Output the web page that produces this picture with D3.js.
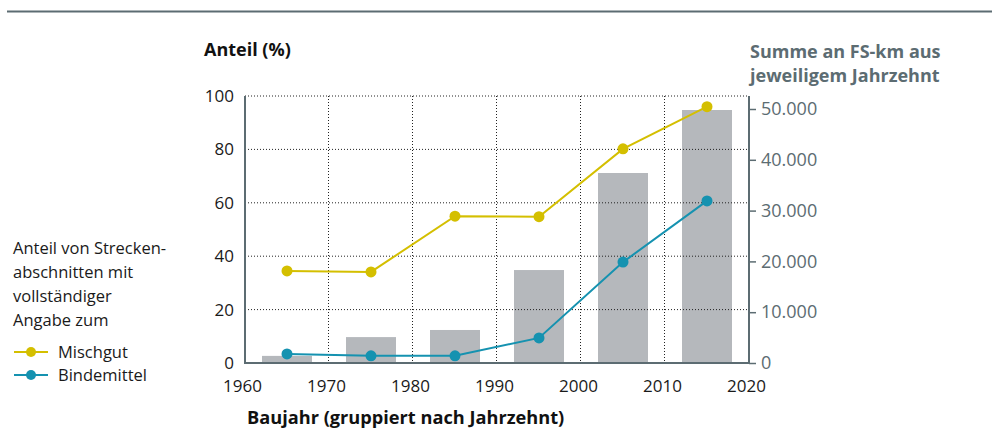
<!DOCTYPE html>
<html>
<head>
<meta charset="utf-8">
<style>
  body { margin: 0; background: #fff; }
  svg text { font-family: "Open Sans", sans-serif; }
</style>
</head>
<body>
<div id="chart"></div>
<script src="https://d3js.org/d3.v7.min.js"></script>
<script>
  // Decades (bar / point centres)
  const DECADES = [1965, 1975, 1985, 1995, 2005, 2015];
  // Sum of FS-km per decade (right axis)
  const KM_SUM = [1400, 5100, 6500, 18300, 37400, 49800];
  // Share (%) with full data
  const MISCHGUT = [34.5, 34.1, 55.0, 54.8, 80.2, 96.0];
  const BINDEMITTEL = [3.4, 2.7, 2.7, 9.4, 37.8, 60.7];
  const X_TICKS = [1960, 1970, 1980, 1990, 2000, 2010, 2020];
  const Y_TICKS = [0, 20, 40, 60, 80, 100];
  const KM_TICKS = [0, 10000, 20000, 30000, 40000, 50000];

  const W = 992, H = 430;
  const LEFT = 245, RIGHT = 749, TOP = 96, BOTTOM = 363;
  const YELLOW = "#d4bf00", TEAL = "#1592b0", GREY = "#b5b8bc", SLATE = "#5c6c72";

  const svg = d3.select("#chart").append("svg")
    .attr("width", W).attr("height", H);

  // top rule
  svg.append("line")
    .attr("x1", 7).attr("x2", W).attr("y1", 11.5).attr("y2", 11.5)
    .style("stroke", SLATE).style("stroke-width", 2);

  const x = d3.scaleLinear().domain([1960, 2020]).range([LEFT, RIGHT]);
  const y = d3.scaleLinear().domain([0, 100]).range([BOTTOM, TOP]);
  const yKm = d3.scaleLinear().domain([0, 50000]).range([BOTTOM, 109]);

  // bars
  svg.selectAll("rect.bar")
    .data(DECADES)
    .enter().append("rect")
    .attr("class", "bar")
    .attr("x", d => x(d) - 25)
    .attr("width", 50)
    .attr("y", (d, i) => yKm(KM_SUM[i]))
    .attr("height", (d, i) => BOTTOM - yKm(KM_SUM[i]))
    .style("fill", GREY);

  // gridlines
  svg.selectAll("line.hgrid")
    .data(Y_TICKS.slice(1))
    .enter().append("line")
    .attr("x1", LEFT).attr("x2", RIGHT)
    .attr("y1", d => y(d)).attr("y2", d => y(d))
    .style("stroke", "#222").style("stroke-width", 1)
    .style("stroke-dasharray", "1,2");

  svg.selectAll("line.vgrid")
    .data(X_TICKS.slice(1))
    .enter().append("line")
    .attr("x1", d => x(d) - 0.5).attr("x2", d => x(d) - 0.5)
    .attr("y1", TOP).attr("y2", BOTTOM)
    .style("stroke", "#222").style("stroke-width", 1)
    .style("stroke-dasharray", "1,2");

  // left axis
  const yAx = svg.append("g")
    .attr("transform", "translate(" + LEFT + ",0)")
    .call(d3.axisLeft(y).tickValues(Y_TICKS).tickSize(0).tickPadding(11));
  yAx.select(".domain").remove();
  yAx.selectAll("text").style("font-size", "17px").style("fill", "#1a1a1a");

  // x axis
  const xAx = svg.append("g")
    .attr("transform", "translate(0," + BOTTOM + ")")
    .call(d3.axisBottom(x).tickValues(X_TICKS).tickSize(0).tickPadding(17)
      .tickFormat(d => d));
  xAx.select(".domain").remove();
  xAx.selectAll("text").style("font-size", "17px").style("fill", "#1a1a1a")
    .attr("dx", -3);

  // right axis
  const rAx = svg.append("g")
    .attr("transform", "translate(" + RIGHT + ",0)")
    .call(d3.axisRight(yKm).tickValues(KM_TICKS).tickSize(7).tickPadding(5)
      .tickFormat(d => d === 0 ? "0" : d3.format(",")(d).replace(/,/g, ".")));
  rAx.select(".domain").remove();
  rAx.selectAll("line").style("stroke", SLATE).style("stroke-width", 1.5);
  rAx.selectAll("text").style("font-size", "18px").style("fill", SLATE);

  // axis lines
  svg.append("line")
    .attr("x1", LEFT).attr("x2", LEFT).attr("y1", TOP).attr("y2", BOTTOM + 1)
    .style("stroke", SLATE).style("stroke-width", 2);
  svg.append("line")
    .attr("x1", LEFT).attr("x2", RIGHT).attr("y1", BOTTOM).attr("y2", BOTTOM)
    .style("stroke", SLATE).style("stroke-width", 2);
  svg.append("line")
    .attr("x1", RIGHT).attr("x2", RIGHT).attr("y1", TOP).attr("y2", BOTTOM + 1)
    .style("stroke", SLATE).style("stroke-width", 2);

  // lines
  const series = [
    { name: "Mischgut", values: MISCHGUT, color: YELLOW },
    { name: "Bindemittel", values: BINDEMITTEL, color: TEAL }
  ];
  const line = d3.line().x(d => x(d[0])).y(d => y(d[1]));
  series.forEach(function (s) {
    const pts = DECADES.map((d, i) => [d, s.values[i]]);
    svg.append("path")
      .attr("d", line(pts))
      .style("fill", "none").style("stroke", s.color).style("stroke-width", 2);
    svg.selectAll(null)
      .data(pts)
      .enter().append("circle")
      .attr("cx", d => x(d[0])).attr("cy", d => y(d[1]))
      .attr("r", 5.5).style("fill", s.color);
  });

  // titles
  svg.append("text")
    .attr("x", 204).attr("y", 56)
    .style("font-size", "18px").style("font-weight", "bold").style("fill", "#111")
    .text("Anteil (%)");

  const RIGHT_TITLE = ["Summe an FS-km aus", "jeweiligem Jahrzehnt"];
  svg.selectAll("text.rtitle")
    .data(RIGHT_TITLE)
    .enter().append("text")
    .attr("class", "rtitle")
    .attr("x", 750).attr("y", (d, i) => 58 + i * 24)
    .style("font-size", "18px").style("font-weight", "bold").style("fill", SLATE)
    .text(d => d);

  svg.append("text")
    .attr("x", 247).attr("y", 424)
    .style("font-size", "18.2px").style("font-weight", "bold").style("fill", "#111")
    .text("Baujahr (gruppiert nach Jahrzehnt)");

  // legend
  const LEGEND_LINES = ["Anteil von Strecken-", "abschnitten mit", "vollständiger", "Angabe zum"];
  svg.selectAll("text.leg")
    .data(LEGEND_LINES)
    .enter().append("text")
    .attr("x", 13).attr("y", (d, i) => 254 + i * 24)
    .style("font-size", "16.5px").style("fill", "#1a1a1a")
    .text(d => d);

  series.forEach(function (s, i) {
    const ly = 352 + i * 23;
    svg.append("line")
      .attr("x1", 14).attr("x2", 48).attr("y1", ly).attr("y2", ly)
      .style("stroke", s.color).style("stroke-width", 2);
    svg.append("circle")
      .attr("cx", 31).attr("cy", ly).attr("r", 5).style("fill", s.color);
    svg.append("text")
      .attr("x", 58).attr("y", ly + 6)
      .style("font-size", "16.5px").style("fill", "#1a1a1a")
      .text(s.name);
  });
</script>
</body>
</html>
